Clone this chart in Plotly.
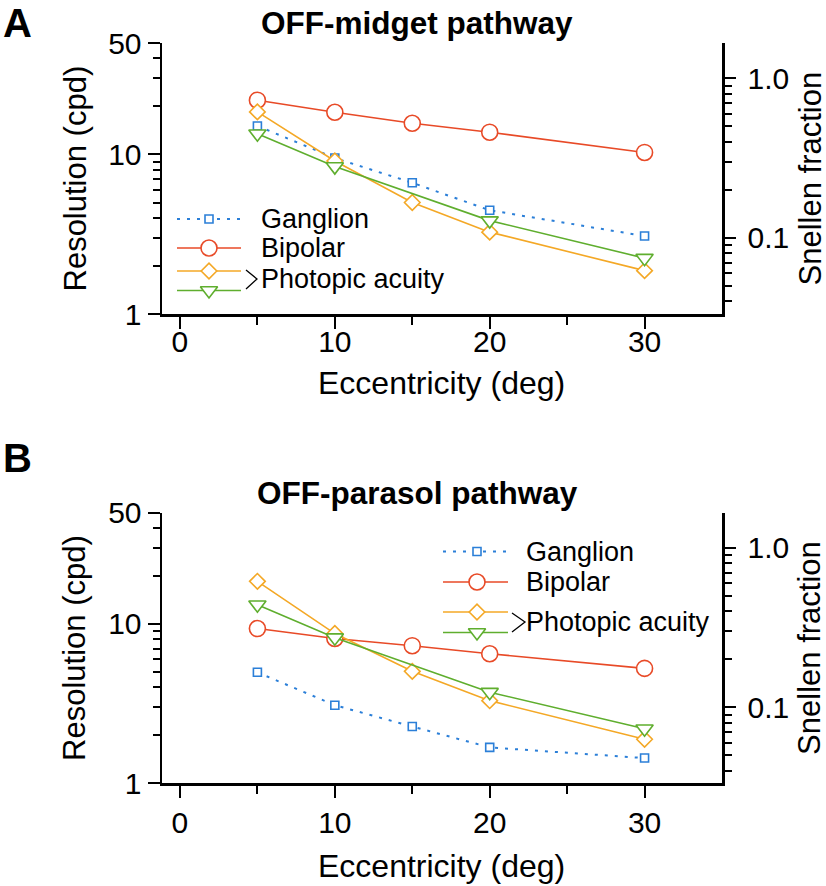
import math
import plotly.graph_objects as go

W, H = 826, 886
FONT = "Liberation Sans, Arial, Helvetica, sans-serif"

# ---------------- data ----------------
ecc = [5, 10, 15, 20, 30]                 # eccentricity (deg)
ecc_tri = [5, 10, 20, 30]                 # eccentricities of the triangle acuity series

x_tickvals = [0, 10, 20, 30]
x_minor = [5, 15, 25]
y_tickvals = [1, 10, 50]
y_minor = [2, 3, 4, 5, 6, 7, 8, 9, 20, 30, 40]
snellen_tickvals = [0.1, 1.0]
snellen_ticktext = ["0.1", "1.0"]
snellen_minor = [0.04, 0.05, 0.06, 0.07, 0.08, 0.09, 0.2, 0.3, 0.4, 0.5, 0.6, 0.7, 0.8, 0.9]

# Panel A: OFF-midget pathway (cpd)
midget_ganglion = [15.1, 9.5, 6.65, 4.47, 3.08]
midget_bipolar = [21.9, 18.4, 15.7, 13.8, 10.3]
midget_acuity_diamond = [18.5, 9.1, 5.0, 3.26, 1.87]
midget_acuity_triangle = [13.5, 8.4, 3.85, 2.24]

# Panel B: OFF-parasol pathway (cpd)
parasol_ganglion = [4.97, 3.09, 2.27, 1.68, 1.44]
parasol_bipolar = [9.35, 8.1, 7.3, 6.5, 5.26]
parasol_acuity_diamond = [18.5, 8.7, 5.04, 3.3, 1.89]
parasol_acuity_triangle = [13.2, 8.2, 3.73, 2.2]

SNELLEN_CPD = 30.0  # 1.0 Snellen fraction = 30 cpd

# ---------------- styles ----------------
BLUE = "#2b7fd8"
RED = "#e84a27"
ORANGE = "#f4a826"
GREEN = "#5fae2e"
LW = 1.6

series_style = {
    "ganglion": dict(color=BLUE, symbol="square", size=8, dash="3px,7px"),
    "bipolar": dict(color=RED, symbol="circle", size=16, dash="solid"),
    "diamond": dict(color=ORANGE, symbol="diamond", size=12, dash="solid"),
    "triangle": dict(color=GREEN, symbol="triangle-down", size=15, dash="solid"),
}

xdom = [162 / W, 722 / W]
panels = [
    dict(y_px=(43, 314), xa="x", ya="y", ya_r="y2", title="OFF-midget pathway", label="A",
         data=dict(ganglion=(ecc, midget_ganglion), bipolar=(ecc, midget_bipolar),
                   diamond=(ecc, midget_acuity_diamond), triangle=(ecc_tri, midget_acuity_triangle)),
         legend=dict(x0=177, x1=241, xm=209, rows=[219, 248, 271, 290.5], text_x=259,
                     bracket=[(246, 270), (257, 279), (246, 289)], acu_y=279),
         xlab_standoff=-13, label_y=23, ecc_y=383),
    dict(y_px=(512.5, 783.3), xa="x2", ya="y3", ya_r="y4", title="OFF-parasol pathway", label="B",
         data=dict(ganglion=(ecc, parasol_ganglion), bipolar=(ecc, parasol_bipolar),
                   diamond=(ecc, parasol_acuity_diamond), triangle=(ecc_tri, parasol_acuity_triangle)),
         legend=dict(x0=443, x1=508, xm=477, rows=[551.5, 582, 612, 632.5], text_x=524,
                     bracket=[(512, 613), (525, 622), (512, 632)], acu_y=622),
         xlab_standoff=-1, label_y=458, ecc_y=866),
]

fig = go.Figure()

def axname(ref):
    return ref[0] + "axis" + ref[1:]

tick_common = dict(ticks="outside", tickwidth=2, tickcolor="black", showline=True,
                   linewidth=2.5, linecolor="black", showgrid=False, zeroline=False,
                   automargin=False,
                   tickfont=dict(size=30, family=FONT, color="black"))

for p in panels:
    for key in ["ganglion", "bipolar", "diamond", "triangle"]:
        st = series_style[key]
        xs, ys = p["data"][key]
        fig.add_trace(go.Scatter(
            x=xs, y=ys, xaxis=p["xa"], yaxis=p["ya"], mode="lines+markers",
            line=dict(color=st["color"], width=LW if key != "ganglion" else 2, dash=st["dash"]),
            marker=dict(symbol=st["symbol"], size=st["size"], color="white",
                        line=dict(color=st["color"], width=LW)),
            showlegend=False, cliponaxis=False, hoverinfo="skip"))
    fig.add_trace(go.Scatter(x=p["data"]["bipolar"][0],
                             y=[v / SNELLEN_CPD for v in p["data"]["bipolar"][1]],
                             xaxis=p["xa"], yaxis=p["ya_r"], mode="markers",
                             marker=dict(opacity=0), showlegend=False, hoverinfo="skip"))

    lg = p["legend"]
    for key, yrow in zip(["ganglion", "bipolar", "diamond", "triangle"], lg["rows"]):
        st = series_style[key]
        fig.add_trace(go.Scatter(
            x=[lg["x0"], lg["x1"]], y=[yrow, yrow], xaxis="x3", yaxis="y5", mode="lines",
            line=dict(color=st["color"], width=LW if key != "ganglion" else 2, dash=st["dash"]),
            showlegend=False, hoverinfo="skip"))
        fig.add_trace(go.Scatter(
            x=[lg["xm"]], y=[yrow], xaxis="x3", yaxis="y5", mode="markers",
            marker=dict(symbol=st["symbol"], size=st["size"], color="white",
                        line=dict(color=st["color"], width=LW)),
            showlegend=False, hoverinfo="skip"))

layout = dict(width=W, height=H, autosize=False,
              margin=dict(l=0, r=0, t=0, b=0, pad=0, autoexpand=False),
              paper_bgcolor="white", plot_bgcolor="rgba(0,0,0,0)", showlegend=False,
              font=dict(family=FONT, color="black"))

annotations = []
shapes = []
for p in panels:
    top, bot = p["y_px"]
    ydom = [(H - bot) / H, (H - top) / H]
    xa, ya, yr = p["xa"], p["ya"], p["ya_r"]
    layout[axname(xa)] = dict(domain=xdom, anchor=ya, range=[-1.16, 35],
                              tickvals=x_tickvals, ticktext=[str(v) for v in x_tickvals],
                              ticklen=12, ticklabelstandoff=p["xlab_standoff"],
                              minor=dict(tickvals=x_minor, ticks="outside", ticklen=8,
                                         tickwidth=2, tickcolor="black", showgrid=False),
                              **tick_common)
    layout[axname(ya)] = dict(domain=ydom, anchor=xa, type="log",
                              range=[0, math.log10(50)],
                              tickvals=y_tickvals, ticktext=[str(v) for v in y_tickvals],
                              ticklen=12,
                              minor=dict(tickvals=y_minor, ticks="outside", ticklen=7,
                                         tickwidth=2, tickcolor="black", showgrid=False),
                              **tick_common)
    layout[axname(yr)] = dict(domain=ydom, anchor=xa, overlaying=ya, side="right", type="log",
                              range=[math.log10(1 / SNELLEN_CPD), math.log10(50 / SNELLEN_CPD)],
                              tickvals=snellen_tickvals, ticktext=snellen_ticktext,
                              ticklen=11, ticklabelstandoff=6,
                              minor=dict(tickvals=snellen_minor, ticks="outside", ticklen=7,
                                         tickwidth=2, tickcolor="black", showgrid=False),
                              **tick_common)

    mid_y = (top + bot) / 2
    annotations.append(dict(x=1, y=p["label_y"],
                            xref="x3", yref="y5", text="<b>%s</b>" % p["label"],
                            showarrow=False, xanchor="left", yanchor="middle",
                            font=dict(size=40, family=FONT, color="black")))
    annotations.append(dict(x=417, y=top - 20, xref="x3", yref="y5",
                            text="<b>%s</b>" % p["title"], showarrow=False,
                            xanchor="center", yanchor="middle",
                            font=dict(size=31.5, family=FONT, color="black")))
    annotations.append(dict(x=75, y=mid_y, xref="x3", yref="y5", text="Resolution (cpd)",
                            textangle=-90, showarrow=False, xanchor="center", yanchor="middle",
                            font=dict(size=31, family=FONT, color="black")))
    annotations.append(dict(x=810, y=mid_y, xref="x3", yref="y5", text="Snellen fraction",
                            textangle=-90, showarrow=False, xanchor="center", yanchor="middle",
                            font=dict(size=31, family=FONT, color="black")))
    annotations.append(dict(x=441, y=p["ecc_y"],
                            xref="x3", yref="y5", text="Eccentricity (deg)",
                            showarrow=False, xanchor="center", yanchor="middle",
                            font=dict(size=32, family=FONT, color="black")))
    lg = p["legend"]
    for txt, yrow in [("Ganglion", lg["rows"][0]), ("Bipolar", lg["rows"][1]),
                      ("Photopic acuity", lg["acu_y"])]:
        annotations.append(dict(x=lg["text_x"], y=yrow, xref="x3", yref="y5", text=txt,
                                showarrow=False, xanchor="left", yanchor="middle",
                                font=dict(size=27, family=FONT, color="black")))
    (ax0, ay0), (ax1, ay1), (ax2, ay2) = lg["bracket"]
    shapes.append(dict(type="path", xref="x3", yref="y5",
                       path="M %s %s L %s %s L %s %s" % (ax0, ay0, ax1, ay1, ax2, ay2),
                       line=dict(color="black", width=1.3)))

layout["xaxis3"] = dict(domain=[0, 1], range=[0, W], visible=False, fixedrange=True,
                        anchor="y5", automargin=False)
layout["yaxis5"] = dict(domain=[0, 1], range=[H, 0], visible=False, fixedrange=True,
                        anchor="x3", automargin=False)
layout["annotations"] = annotations
layout["shapes"] = shapes

fig.update_layout(**layout)
fig.write_html("out.html", config={"displayModeBar": False, "staticPlot": True},
               post_script="document.body.style.margin='0';document.body.style.padding='0';")
